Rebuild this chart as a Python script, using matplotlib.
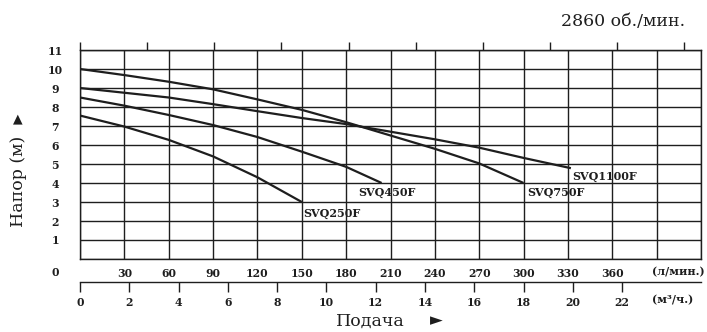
import numpy as np
import matplotlib as mpl
mpl.use("Agg")
import matplotlib.pyplot as plt

mpl.rcParams["font.family"] = ["DejaVu Serif", "DejaVu Sans"]

# расход, л/мин  и  напор, м  (читается с графика)
flow_250 = [0, 30, 60, 90, 120, 150]
head_250 = [7.55, 6.97, 6.27, 5.40, 4.30, 3.00]

flow_450 = [0, 30, 60, 90, 120, 150, 180, 204]
head_450 = [8.50, 8.07, 7.58, 7.05, 6.42, 5.65, 4.85, 4.00]

flow_750 = [0, 30, 60, 90, 120, 150, 180, 210, 240, 270, 300]
head_750 = [10.0, 9.68, 9.33, 8.93, 8.40, 7.85, 7.20, 6.50, 5.80, 5.03, 4.00]

flow_1100 = [0, 30, 60, 90, 120, 150, 180, 210, 240, 270, 300, 332]
head_1100 = [9.00, 8.75, 8.50, 8.15, 7.78, 7.42, 7.10, 6.70, 6.30, 5.86, 5.32, 4.78]

names = ["SVQ250F", "SVQ450F", "SVQ750F", "SVQ1100F"]
lmin_ticks = list(range(0, 421, 30))
lmin_labels = ["" if v in (0, 390, 420) else str(v) for v in lmin_ticks]
m3h_ticks = list(range(0, 23, 2))
head_ticks = list(range(0, 12))
head_labels = [""] + [str(v) for v in head_ticks[1:]]
gpm_ticks = list(range(0, 109, 12))

ink = "#1e1e1e"
W, H = 707, 332

fig = plt.figure(figsize=(W / 100, H / 100), dpi=100)
ax = fig.add_axes([80 / W, 1 - 259 / H, 621 / W, 209 / H])
ax.set_xlim(0, 420)
ax.set_ylim(0, 11)

ax.set_xticks(lmin_ticks)
ax.set_xticklabels(lmin_labels, fontsize=7.8, fontweight="bold", color=ink)
ax.set_yticks(head_ticks)
ax.set_yticklabels(head_labels, fontsize=7.8, fontweight="bold", color=ink)
ax.tick_params(axis="x", length=0, pad=6.5)
ax.tick_params(axis="y", length=0, pad=18)
for t in ax.get_yticklabels():
    t.set_horizontalalignment("center")
ax.grid(True, color=ink, lw=1.0)
for s in ax.spines.values():
    s.set_color(ink)
    s.set_linewidth(1.0)

curves = [(flow_250, head_250), (flow_450, head_450),
          (flow_750, head_750), (flow_1100, head_1100)]
offsets = [(1.4, -8.6), (-17, -6.5), (3, -6.5), (0.7, -5.8)]
for (q, h), name, off in zip(curves, names, offsets):
    ax.plot(q, h, color=ink, lw=1.6, solid_capstyle="butt", zorder=3)
    ax.annotate(name, (q[-1], h[-1]), xytext=off, textcoords="offset points",
                ha="left", va="center", fontsize=8, fontweight="bold", color=ink)

# ось м3/ч под основной
sec = ax.secondary_xaxis(-23 / 209, functions=(lambda q: q * 0.06, lambda m: m / 0.06))
sec.set_xticks(m3h_ticks)
sec.set_xticklabels([str(v) for v in m3h_ticks], fontsize=7.8, fontweight="bold", color=ink)
sec.tick_params(direction="out", length=7, width=1.0, color=ink, pad=4)
sec.spines["bottom"].set_color(ink)
sec.spines["bottom"].set_linewidth(1.0)

# верхние риски (галлоны США в минуту)
top = ax.secondary_xaxis("top", functions=(lambda q: q / 3.78541, lambda g: g * 3.78541))
top.set_xticks(gpm_ticks)
top.set_xticklabels([""] * len(gpm_ticks))
top.tick_params(direction="out", length=5.8, width=1.0, color=ink)

fig.text(55 / W, 1 - 273 / H, "0", fontsize=7.8, fontweight="bold", color=ink,
         ha="center", va="center")
fig.text(652 / W, 1 - 272 / H, "(л/мин.)", fontsize=8, fontweight="bold", color=ink,
         ha="left", va="center")
fig.text(652 / W, 1 - 300 / H, "(м³/ч.)", fontsize=8, fontweight="bold", color=ink,
         ha="left", va="center")

fig.text(19 / W, 1 - 181 / H, "Напор (м)", fontsize=12.5, rotation=90, color=ink,
         ha="center", va="center")
fig.text(18 / W, 1 - 119 / H, "▲", fontsize=9, color=ink, family="DejaVu Sans",
         ha="center", va="center")
fig.text(370 / W, 1 - 321 / H, "Подача", fontsize=12.5, color=ink, ha="center", va="center")
fig.text(436 / W, 1 - 320 / H, "►", fontsize=12, color=ink, family="DejaVu Sans",
         ha="center", va="center")
fig.text(685 / W, 1 - 22 / H, "2860 об./мин.", fontsize=12.5, color=ink,
         ha="right", va="center")

fig.savefig("out.png", dpi=100)
